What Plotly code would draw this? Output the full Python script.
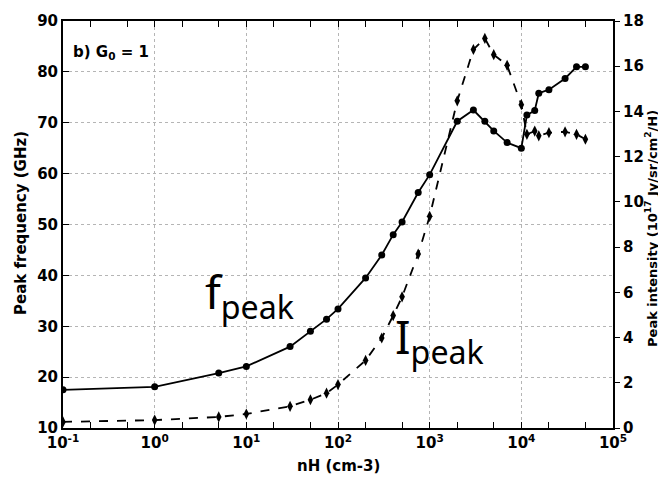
import plotly.graph_objects as go

# ---- data ----
nH = [0.1, 1, 5, 10, 30, 50, 75, 100, 200, 300, 400, 500, 750, 1000,
      2000, 3000, 4000, 5000, 7000, 10000, 11500, 14000, 15500, 20000,
      30000, 40000, 50000]
f_peak = [17.5, 18.1, 20.8, 22.1, 26.0, 29.0, 31.4, 33.4, 39.5, 44.0, 48.0,
          50.5, 56.3, 59.8, 70.3, 72.5, 70.3, 68.4, 66.1, 65.0, 71.5, 72.4,
          75.8, 76.5, 78.7, 81.0, 81.0]
I_peak = [0.27, 0.35, 0.49, 0.62, 0.96, 1.25, 1.54, 1.92, 2.99, 3.98, 4.97,
          5.80, 7.69, 9.36, 14.47, 16.74, 17.23, 16.51, 16.04, 14.30, 12.99,
          13.13, 12.92, 13.06, 13.10, 12.99, 12.77]
x_tickvals = [0.1, 1, 10, 100, 1000, 10000, 100000]
x_ticktext = ["10<sup>-1</sup>", "10<sup>0</sup>", "10<sup>1</sup>",
              "10<sup>2</sup>", "10<sup>3</sup>", "10<sup>4</sup>",
              "10<sup>5</sup>"]

W, H = 658, 477
L, R, T, B = 63, 613, 15, 428


def px_x(p):
    return (p - L) / (R - L)


def px_y(p):
    return 1 - (p - T) / (B - T)


FONT = "DejaVu Sans"
fig = go.Figure()
fig.add_trace(go.Scatter(
    x=nH, y=f_peak, mode="lines+markers", name="f_peak",
    line=dict(color="black", width=1.8),
    marker=dict(symbol="circle", size=7, color="black"),
))
fig.add_trace(go.Scatter(
    x=nH, y=I_peak, mode="lines+markers", name="I_peak", yaxis="y2",
    line=dict(color="black", width=1.8, dash="dash"),
    marker=dict(symbol="diamond-tall", size=8, color="black"),
))

tickfont = dict(family=FONT, size=15, color="black", weight="bold")
GRID = "#b5b5b5"
fig.update_layout(
    width=W, height=H,
    margin=dict(l=L, r=W - R, t=T, b=H - B),
    plot_bgcolor="white", paper_bgcolor="white",
    showlegend=False,
    xaxis=dict(
        type="log", range=[-1, 5],
        tickvals=x_tickvals, ticktext=x_ticktext,
        ticks="inside", ticklen=6, tickwidth=1, tickcolor="black",
        minor=dict(ticks="inside", ticklen=3, tickcolor="black", showgrid=False),
        showline=True, linewidth=2, linecolor="black", mirror="allticks",
        showgrid=True, gridcolor=GRID, griddash="dot", gridwidth=1,
        tickfont=tickfont, zeroline=False,
    ),
    yaxis=dict(
        range=[10, 90], dtick=10,
        ticks="inside", ticklen=6, tickcolor="black",
        showline=True, linewidth=2, linecolor="black", mirror=True,
        showgrid=True, gridcolor=GRID, griddash="dot", gridwidth=1,
        tickfont=tickfont, zeroline=False,
    ),
    yaxis2=dict(
        range=[0, 18], dtick=2, overlaying="y", side="right",
        ticks="outside", ticklen=5, tickcolor="black",
        showline=True, linewidth=2, linecolor="black",
        showgrid=False, tickfont=tickfont, zeroline=False,
    ),
)

ann_font = dict(family=FONT, size=15, color="black", weight="bold")
fig.add_annotation(text="b) G<sub>0</sub> = 1", xref="paper", yref="paper",
                   x=px_x(71), y=px_y(47), xanchor="left", yanchor="middle",
                   showarrow=False, font=dict(family=FONT, size=15, color="black", weight="bold"))
fig.add_annotation(text="Peak frequency (GHz)", xref="paper", yref="paper",
                   x=px_x(21), y=px_y(220), xanchor="center", yanchor="middle",
                   textangle=-90, showarrow=False, font=ann_font)
fig.add_annotation(text="nH (cm-3)", xref="paper", yref="paper",
                   x=0.5, y=px_y(467), xanchor="center", yanchor="middle",
                   showarrow=False, font=ann_font)
fig.add_annotation(text="Peak intensity (10<sup>17</sup> Jy/sr/cm<sup>2</sup>/H)",
                   xref="paper", yref="paper",
                   x=px_x(651), y=px_y(226), xanchor="center", yanchor="middle",
                   textangle=-90, showarrow=False,
                   font=dict(family=FONT, size=13, color="black", weight="bold"))
big = dict(family="Noto Sans", size=46, color="black")
fig.add_annotation(text="f<sub>peak</sub>", xref="paper", yref="paper",
                   x=px_x(203), y=px_y(256), xanchor="left", yanchor="top",
                   showarrow=False, font=big)
fig.add_annotation(text="I<sub>peak</sub>", xref="paper", yref="paper",
                   x=px_x(393), y=px_y(301), xanchor="left", yanchor="top",
                   showarrow=False, font=big)

fig.write_html("out.html")
